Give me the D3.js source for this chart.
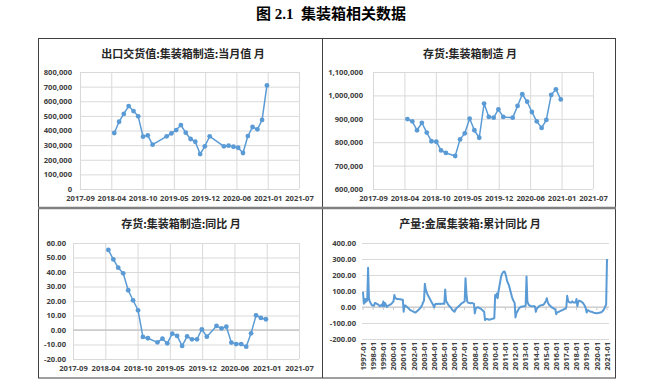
<!DOCTYPE html>
<html>
<head>
<meta charset="utf-8">
<script src="https://cdn.jsdelivr.net/npm/d3@7"></script>
<style>
  body { margin: 0; background: #fff; }
</style>
</head>
<body>
<div id="chart"></div>
<script>
// 出口交货值:集装箱制造:当月值 (Jan/Feb missing)
const exportMonths = ["2018-04","2018-05","2018-06","2018-07","2018-08","2018-09","2018-10","2018-11","2018-12",
  "2019-03","2019-04","2019-05","2019-06","2019-07","2019-08","2019-09","2019-10","2019-11","2019-12",
  "2020-03","2020-04","2020-05","2020-06","2020-07","2020-08","2020-09","2020-10","2020-11","2020-12"];
const exportValues = [383000, 460000, 513000, 567000, 533000, 497000, 358000, 367000, 303000,
  360000, 380000, 403000, 437000, 385000, 342000, 323000, 239000, 292000, 360000,
  292000, 296000, 289000, 282000, 246000, 362000, 424000, 408000, 472000, 708000];

// 存货:集装箱制造 (Jan missing)
const stockMonths = ["2018-04","2018-05","2018-06","2018-07","2018-08","2018-09","2018-10","2018-11","2018-12",
  "2019-02","2019-03","2019-04","2019-05","2019-06","2019-07","2019-08","2019-09","2019-10","2019-11","2019-12",
  "2020-02","2020-03","2020-04","2020-05","2020-06","2020-07","2020-08","2020-09","2020-10","2020-11","2020-12"];
const stockValues = [899000, 889000, 851000, 883000, 841000, 804000, 802000, 765000, 754000,
  741000, 812000, 838000, 901000, 851000, 819000, 965000, 908000, 905000, 940000, 908000,
  905000, 955000, 1005000, 973000, 929000, 889000, 861000, 895000, 1002000, 1026000, 983000];
const stockYoy = [55.2, 48.7, 43.0, 39.1, 27.4, 20.5, 13.6, -4.8, -5.7,
  -8.5, -6.0, -9.2, -2.5, -4.1, -11.0, -4.4, -6.4, -6.4, 0.5, -4.6,
  2.8, 1.1, 2.3, -8.7, -9.7, -9.7, -11.5, -2.3, 10.1, 8.3, 7.4];

// Excel date axis ticks (every 200 days)
const dateTicks = ["2017-09-23","2018-04-11","2018-10-28","2019-05-16","2019-12-02","2020-06-19","2021-01-05","2021-07-24"];

// 产量:金属集装箱:累计同比, 1997-01 .. 2021-01
const prodYears = [1997,1998,1999,2000,2001,2002,2003,2004,2005,2006,2007,2008,2009,
  2010,2011,2012,2013,2014,2015,2016,2017,2018,2019,2020,2021];
const prodYoy = [
  95, 20, 50, 30, 50, 40, 245, 55, 35, 25, 15, 10,
  10, 8, 25, 25, 20, 18, 15, 10, 5, 8, 15, 5,
  35, 5, 25, 15, 0, 5, 10, 12, 15, 18, 22, 30,
  35, 75, 55, 55, 50, 50, 50, 48, 48, 47, 45, 45,
  -30, 10, 10, 5, 0, -5, -10, -15, -20, -22, -25, -28,
  -30, -33, -35, -30, -25, -20, -15, -10, -5, 5, 15, 30,
  40, 145, 110, 95, 80, 70, 60, 50, 40, 30, 20, 10,
  -2, 15, 20, 18, 18, 20, 20, 18, 20, 20, 20, 22,
  20, 110, 40, 30, 20, 12, 5, 0, -5, -15, -20, -25,
  -30, -20, -10, -5, 0, 5, 10, 15, 20, 25, 28, 32,
  35, 180, 90, 35, 28, 25, 25, 22, 25, 25, 22, 20,
  -40, -12, -5, -2, -2, -5, -8, -10, -15, -20, -25, -30,
  -82, -75, -75, -77, -77, -80, -78, -76, -75, -73, -72, -70,
  75, 60, 85, 55, 100, 130, 160, 190, 205, 215, 220, 222,
  210, 190, 165, 150, 140, 120, 100, 80, 60, 45, 35, 25,
  -65, -40, -30, -20, -10, -5, 0, 2, 3, 3, 5, 5,
  10, 190, 35, 20, 12, 8, 6, 5, 4, 5, 6, 3,
  -30, -12, -5, 0, 5, 8, 10, 12, 12, 15, 20, 30,
  40, 55, 30, 20, 12, 8, 2, -3, -5, -10, -12, -15,
  -45, -35, -32, -30, -28, -25, -22, -20, -18, -15, -12, -10,
  0, 70, 40, 32, 28, 28, 28, 35, 30, 28, 28, 30,
  50, 5, 30, 40, 38, 35, 32, 28, 22, 15, 5, -10,
  -35, -20, -20, -25, -28, -30, -30, -32, -35, -37, -38, -38,
  -40, -38, -38, -36, -35, -33, -30, -25, -18, -8, 5, 15,
  300
];

const blue = "#5b9bd5";
const gridColor = "#d9d9d9";
const textColor = "#404040";
const numFont = "'Noto Sans', 'DejaVu Sans', sans-serif";
const cjkFont = "'Noto Sans CJK SC', sans-serif";

const parseMonth = d3.timeParse("%Y-%m");
const parseDay = d3.timeParse("%Y-%m-%d");
const monthEnd = m => d3.timeDay.offset(d3.timeMonth.offset(parseMonth(m), 1), -1);
const tickDates = dateTicks.map(parseDay);

// month labels for the production chart
const prodMonths = [];
prodYears.forEach(y => {
  for (let m = 1; m <= 12; m++) {
    if (prodMonths.length < prodYoy.length) prodMonths.push(y + "-" + String(m).padStart(2, "0"));
  }
});

const svg = d3.select("#chart").append("svg")
  .attr("width", 669)
  .attr("height", 385);

// page title
svg.append("text")
  .attr("x", 331)
  .attr("y", 19)
  .attr("text-anchor", "middle")
  .style("font-family", "'Liberation Serif', 'Noto Sans CJK SC', serif")
  .style("font-weight", "bold")
  .style("font-size", "15px")
  .style("white-space", "pre")
  .attr("fill", "#000")
  .text("图 2.1  集装箱相关数据");

// table frame
svg.append("rect")
  .attr("x", 38.5).attr("y", 38.5)
  .attr("width", 577).attr("height", 339.5)
  .attr("fill", "none").attr("stroke", "#404040").attr("stroke-width", 1);
svg.append("line")
  .attr("x1", 322.5).attr("x2", 322.5).attr("y1", 38).attr("y2", 378)
  .attr("stroke", "#404040");
svg.append("line")
  .attr("x1", 38).attr("x2", 616).attr("y1", 208).attr("y2", 208)
  .attr("stroke", "#808080").attr("stroke-width", 2.5);

function styleText(sel) {
  sel.style("font-family", numFont)
    .style("font-size", "7.6px")
    .style("font-weight", "bold")
    .attr("fill", textColor);
}

function chartTitle(x, y, label) {
  svg.append("text")
    .attr("x", x).attr("y", y)
    .attr("text-anchor", "middle")
    .attr("dy", "0.35em")
    .style("font-family", cjkFont)
    .style("font-weight", "bold")
    .style("font-size", "11px")
    .attr("fill", "#262626")
    .text(label);
}

// line chart with markers on an Excel-style date axis
function datePanel(o) {
  const x = d3.scaleTime()
    .domain([tickDates[0], tickDates[tickDates.length - 1]])
    .range([o.left, o.right]);
  const y = d3.scaleLinear().domain(o.domain).range([o.bottom, o.top]);
  const g = svg.append("g");

  g.append("g")
    .attr("transform", `translate(${o.left},0)`)
    .call(d3.axisLeft(y).tickValues(o.ticks).tickFormat(o.fmt)
      .tickSize(-(o.right - o.left)).tickPadding(o.pad))
    .call(a => a.select(".domain").remove())
    .call(a => a.selectAll("line").attr("stroke", gridColor))
    .call(a => a.selectAll("text").call(styleText));

  g.append("g")
    .attr("transform", `translate(0,${o.bottom})`)
    .call(d3.axisBottom(x).tickValues(tickDates).tickFormat(d3.timeFormat("%Y-%m"))
      .tickSize(-(o.bottom - o.top)).tickPadding(7))
    .call(a => a.select(".domain").remove())
    .call(a => a.selectAll("line").attr("stroke", gridColor))
    .call(a => a.selectAll("text").call(styleText));

  if (o.domain[0] < 0) {
    g.append("line")
      .attr("x1", o.left).attr("x2", o.right)
      .attr("y1", y(0)).attr("y2", y(0))
      .attr("stroke", "#c8c8c8").attr("stroke-width", 1.3);
  }

  const pts = o.months.map((m, i) => ({ date: monthEnd(m), value: o.values[i] }));

  g.append("path")
    .datum(pts)
    .attr("fill", "none")
    .attr("stroke", blue)
    .attr("stroke-width", 1.5)
    .attr("stroke-linejoin", "round")
    .attr("d", d3.line().x(d => x(d.date)).y(d => y(d.value)));

  g.selectAll(".pt")
    .data(pts)
    .enter()
    .append("circle")
    .attr("cx", d => x(d.date))
    .attr("cy", d => y(d.value))
    .attr("r", 2.4)
    .attr("fill", blue);

  chartTitle(o.titleX, o.titleY, o.title);
}

datePanel({
  left: 80, right: 299, top: 72, bottom: 189, pad: 8,
  domain: [0, 800000], ticks: d3.range(0, 800001, 100000), fmt: d3.format(","),
  months: exportMonths, values: exportValues,
  title: "出口交货值:集装箱制造:当月值 月", titleX: 183, titleY: 54
});

datePanel({
  left: 373, right: 593, top: 72, bottom: 189, pad: 10,
  domain: [600000, 1100000], ticks: d3.range(600000, 1100001, 100000), fmt: d3.format(","),
  months: stockMonths, values: stockValues,
  title: "存货:集装箱制造 月", titleX: 470, titleY: 54
});

datePanel({
  left: 73, right: 299, top: 243, bottom: 359, pad: 7,
  domain: [-20, 60], ticks: d3.range(-20, 61, 10), fmt: d => d.toFixed(2),
  months: stockMonths, values: stockYoy,
  title: "存货:集装箱制造:同比 月", titleX: 181, titleY: 224
});

// production cumulative yoy, category axis
(function () {
  const left = 362, right = 609, top = 243, bottom = 339;
  const x = d3.scalePoint().domain(prodMonths).range([363, 607]);
  const y = d3.scaleLinear().domain([-200, 400]).range([bottom, top]);
  const g = svg.append("g");

  g.append("g")
    .attr("transform", `translate(${left},0)`)
    .call(d3.axisLeft(y).tickValues(d3.range(-200, 401, 100)).tickFormat(d => d.toFixed(2))
      .tickSize(-(right - left)).tickPadding(6))
    .call(a => a.select(".domain").remove())
    .call(a => a.selectAll("line").attr("stroke", gridColor))
    .call(a => a.selectAll("text").call(styleText));

  // horizontal axis crosses at 0
  g.append("line")
    .attr("x1", left).attr("x2", right)
    .attr("y1", y(0)).attr("y2", y(0))
    .attr("stroke", "#c8c8c8").attr("stroke-width", 1.2);

  const yearTicks = prodMonths.filter(m => m.endsWith("-01"));
  g.selectAll(".ytick")
    .data(yearTicks)
    .enter()
    .append("line")
    .attr("x1", d => x(d)).attr("x2", d => x(d))
    .attr("y1", y(0)).attr("y2", y(0) + 3)
    .attr("stroke", "#c8c8c8");

  g.selectAll(".ylab")
    .data(yearTicks)
    .enter()
    .append("text")
    .attr("transform", d => `translate(${x(d)},${bottom + 3}) rotate(-90)`)
    .attr("text-anchor", "end")
    .attr("dy", "0.35em")
    .call(styleText)
    .text(d => d);

  g.append("path")
    .datum(prodYoy)
    .attr("fill", "none")
    .attr("stroke", blue)
    .attr("stroke-width", 2)
    .attr("stroke-linejoin", "round")
    .attr("d", d3.line().x((d, i) => x(prodMonths[i])).y(d => y(d)));

  chartTitle(470, 224, "产量:金属集装箱:累计同比 月");
})();
</script>
</body>
</html>
